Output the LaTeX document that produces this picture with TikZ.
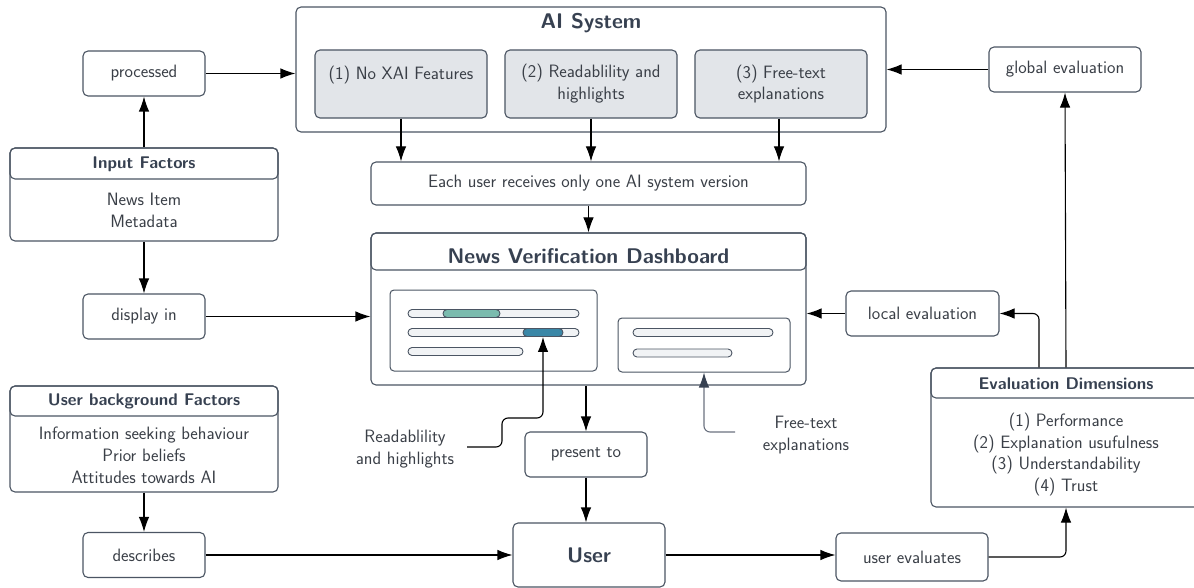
\documentclass[tikz,border=0pt]{standalone}
\usepackage{fontspec}
\usetikzlibrary{arrows.meta,calc}

\definecolor{ink}{HTML}{374151}
\definecolor{bodyink}{HTML}{3A3F47}
\definecolor{edge}{HTML}{4B5563}
\definecolor{panelfill}{HTML}{E2E5E9}
\definecolor{barfill}{HTML}{F1F3F5}
\definecolor{hlteal}{HTML}{7ABBAE}
\definecolor{hlblue}{HTML}{3A87A7}
\definecolor{callgray}{HTML}{6B7280}

\newcommand\bodyfont{\sffamily\fontsize{17.9}{21.8}\selectfont}
\newcommand\headfont{\sffamily\bfseries\fontsize{16.9}{20}\selectfont}
\newcommand\titlefont{\sffamily\bfseries\fontsize{21.2}{24}\selectfont}

\begin{document}
\begin{tikzpicture}[x=1pt,y=-1pt,
  box/.style={draw=edge,line width=1.1pt,rounded corners=5pt,fill=white,
    text=bodyink,font=\bodyfont,align=center,inner sep=0pt},
  subbox/.style={box,fill=panelfill},
  frame/.style={draw=edge,line width=1.1pt,rounded corners=5pt,fill=white,inner sep=0pt},
  hdr/.style={draw=edge,line width=1.1pt,rounded corners=5pt},
  headtxt/.style={text=ink,font=\headfont,inner sep=0pt},
  titletxt/.style={text=ink,font=\titlefont,inner sep=0pt},
  bodytxt/.style={text=bodyink,font=\bodyfont,align=center,inner sep=0pt},
  bar/.style={draw=edge,line width=0.9pt,fill=barfill,rounded corners=4pt,inner sep=0pt},
  conn/.style={-{Latex[length=15pt,width=10.5pt]},line width=1.1pt,black},
  callout/.style={-{Latex[length=15pt,width=10.5pt]},line width=1.1pt,rounded corners=6pt},
]
\clip (0,0) rectangle (1194,588);

% ---------- AI system ----------
\node[frame,minimum width=590,minimum height=125] (ai) at (591,69.5) {};
\node[titletxt] (aiT) at (591,23) {AI System};
\node[subbox,minimum width=172,minimum height=68] (v1) at (401,84) {(1) No XAI Features\\\mbox{}};
\node[subbox,minimum width=172,minimum height=68] (v2) at (591,84) {(2) Readablility and\\highlights};
\node[subbox,minimum width=172,minimum height=68] (v3) at (781,84) {(3) Free-text\\explanations};

\node[box,minimum width=435,minimum height=43] (each) at (588.5,183.5) {Each user receives only one AI system version};

% ---------- dashboard ----------
\node[frame,minimum width=435,minimum height=152] (dash) at (588.5,309) {};
\draw[hdr] (371,233) rectangle (806,270);
\node[titletxt] (dashT) at (588.5,256) {News Verification Dashboard};

\node[frame,line width=1pt,rounded corners=4pt,minimum width=207,minimum height=81] (lp) at (493.5,330.5) {};
\node[bar,minimum width=171,minimum height=8] (b1) at (493.5,313.5) {};
\node[bar,fill=hlteal,minimum width=57,minimum height=8] (hlA) at (471.5,313.5) {};
\node[bar,minimum width=171,minimum height=8] (b2) at (493.5,332.5) {};
\node[bar,fill=hlblue,minimum width=40,minimum height=8] (hlB) at (543,332.5) {};
\node[bar,minimum width=115,minimum height=8] (b3) at (465.5,351.5) {};

\node[frame,line width=1pt,rounded corners=4pt,minimum width=172,minimum height=54] (rp) at (704,345) {};
\node[bar,minimum width=140,minimum height=8] (b4) at (703,332.5) {};
\node[bar,minimum width=99,minimum height=8] (b5) at (682.5,353) {};

% ---------- left column ----------
\node[box,minimum width=122,minimum height=45] (proc) at (144,73.5) {processed};

\node[frame,minimum width=268,minimum height=93] (inp) at (144,194.5) {};
\draw[hdr] (10,148) rectangle (278,179);
\node[headtxt] (inpT) at (144,164) {Input Factors};
\node[bodytxt] (inpB) at (144,210.5) {News Item\\Metadata};

\node[box,minimum width=122,minimum height=45] (disp) at (144,316.5) {display in};

\node[frame,minimum width=268,minimum height=106] (ubg) at (144,439) {};
\draw[hdr] (10,386) rectangle (278,416);
\node[headtxt] (ubgT) at (144,401.5) {User background Factors};
\node[bodytxt] (ubgB) at (144,455) {Information seeking behaviour\\Prior beliefs\\Attitudes towards AI};

\node[box,minimum width=122,minimum height=45] (desc) at (144,555) {describes};

% ---------- user ----------
\node[box,minimum width=122,minimum height=45] (pres) at (586,454.5) {present to};
\node[box,minimum width=152,minimum height=64,font=\titlefont,text=ink] (user) at (589,555) {User};

% ---------- right column ----------
\node[box,minimum width=152,minimum height=45] (glob) at (1065,69.5) {global evaluation};
\node[box,minimum width=153,minimum height=45] (loc) at (922.5,313.5) {local evaluation};
\node[frame,minimum width=270,minimum height=139] (evd) at (1066,437.5) {};
\draw[hdr] (931,368) rectangle (1201,398);
\node[headtxt] (evdT) at (1066,384) {Evaluation Dimensions};
\node[bodytxt] (evdB) at (1066,454.5) {(1) Performance\\(2) Explanation usufulness\\(3) Understandability\\(4) Trust};
\node[box,minimum width=152,minimum height=48] (uev) at (912,557) {user evaluates};

% ---------- callout labels ----------
\node[bodytxt] (lblA) at (405,449) {Readablility\\and highlights};
\node[bodytxt] (lblB) at (806,435) {Free-text\\explanations};
\coordinate (cA) at (467,447);
\coordinate (cB) at (735,432);

% ---------- connectors ----------
\draw[conn] (proc.east) -- (proc.east -| ai.west);
\draw[conn] (glob.west) -- (glob.west -| ai.east);
\draw[conn] (inp.north) -- (proc.south);
\draw[conn] (inp.south) -- (disp.north);
\draw[conn] (disp.east) -- (disp.east -| dash.west);
\draw[conn] (ubg.south) -- (desc.north);
\draw[conn] (desc.east) -- (desc.east -| user.west);

\draw[conn] (v1.south) -- (v1.south |- each.north);
\draw[conn] (v2.south) -- (v2.south |- each.north);
\draw[conn] ($(v3.south)+(-2,0)$) -- ($(v3.south |- each.north)+(-2,0)$);
\draw[conn] (each.south) -- (each.south |- dash.north);

\draw[conn] (pres.north |- dash.south) -- (pres.north);
\draw[conn] (pres.south) -- (pres.south |- user.north);

\draw[conn] (user.east) -- (user.east -| uev.west);
\draw[conn,rounded corners=6pt] (uev.east) -| (evd.south);
\draw[conn] (evd.north) -- (glob.south);
\draw[conn,rounded corners=6pt] ($(evd.north)+(-27,0)$) |- (loc.east);
\draw[conn] (loc.west) -- (loc.west -| dash.east);

\draw[callout,black] (cA) -- (502,447) -- (502,418) -- (hlB.south |- 0,418) -- (hlB.south);
\draw[callout,callgray,-{Latex[length=15pt,width=10.5pt,fill=ink,color=ink]}] (cB) -| (rp.south);
\end{tikzpicture}
\end{document}
